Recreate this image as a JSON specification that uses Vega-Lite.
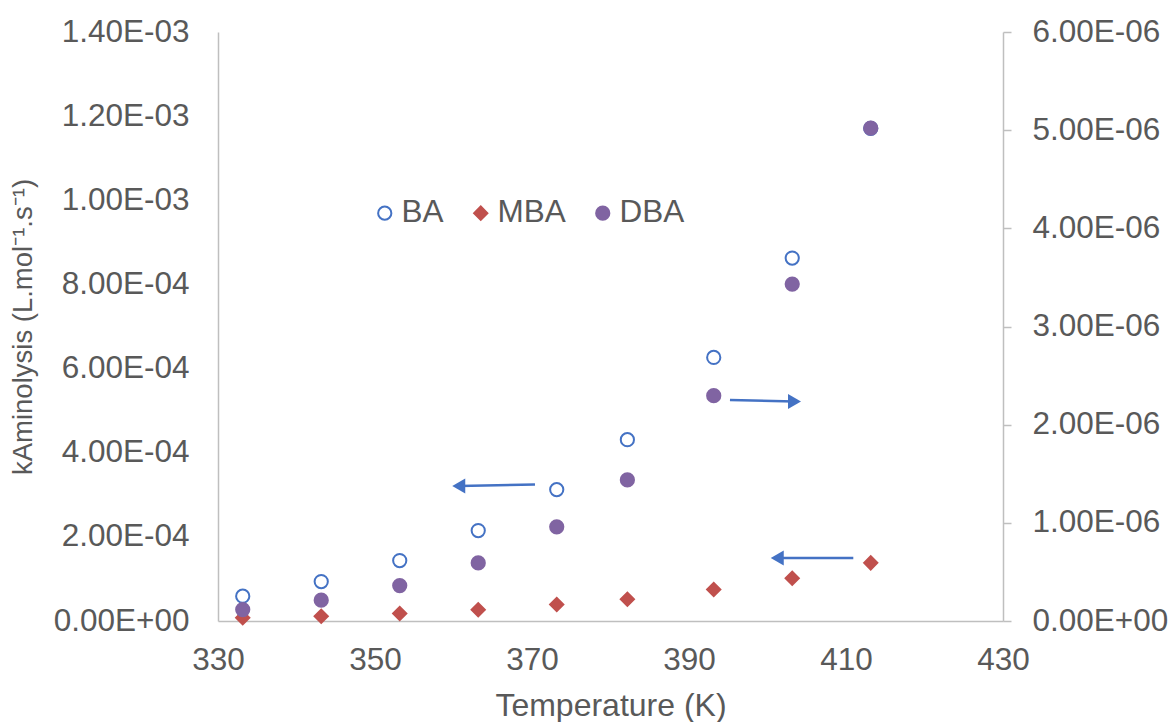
{
  "$schema": "https://vega.github.io/schema/vega-lite/v6.json",
  "width": 785,
  "height": 589,
  "autosize": {"type": "none"},
  "padding": {"left": 218, "top": 32, "right": 171, "bottom": 101},
  "background": "white",
  "datasets": {
    "points": [
      {"T": 333.15, "k": 5.89e-5, "series": "BA"},
      {"T": 343.15, "k": 9.38e-5, "series": "BA"},
      {"T": 353.15, "k": 1.437e-4, "series": "BA"},
      {"T": 363.15, "k": 2.149e-4, "series": "BA"},
      {"T": 373.15, "k": 3.123e-4, "series": "BA"},
      {"T": 382.15, "k": 4.31e-4, "series": "BA"},
      {"T": 393.15, "k": 6.265e-4, "series": "BA"},
      {"T": 403.15, "k": 8.626e-4, "series": "BA"},
      {"T": 413.15, "k": 1.171e-3, "series": "BA"},
      {"T": 333.15, "k": 7.6e-6, "series": "MBA"},
      {"T": 343.15, "k": 1.14e-5, "series": "MBA"},
      {"T": 353.15, "k": 1.78e-5, "series": "MBA"},
      {"T": 363.15, "k": 2.66e-5, "series": "MBA"},
      {"T": 373.15, "k": 3.92e-5, "series": "MBA"},
      {"T": 382.15, "k": 5.18e-5, "series": "MBA"},
      {"T": 393.15, "k": 7.48e-5, "series": "MBA"},
      {"T": 403.15, "k": 1.016e-4, "series": "MBA"},
      {"T": 413.15, "k": 1.382e-4, "series": "MBA"},
      {"T": 333.15, "k": 1.17e-7, "series": "DBA"},
      {"T": 343.15, "k": 2.12e-7, "series": "DBA"},
      {"T": 353.15, "k": 3.61e-7, "series": "DBA"},
      {"T": 363.15, "k": 5.92e-7, "series": "DBA"},
      {"T": 373.15, "k": 9.59e-7, "series": "DBA"},
      {"T": 382.15, "k": 1.437e-6, "series": "DBA"},
      {"T": 393.15, "k": 2.295e-6, "series": "DBA"},
      {"T": 403.15, "k": 3.432e-6, "series": "DBA"},
      {"T": 413.15, "k": 5.02e-6, "series": "DBA"}
    ],
    "arrows": [
      {"x1": 370.38, "y1": 3.242e-4, "x2": 360.67, "y2": 3.211e-4, "dir": "left"},
      {"x1": 395.22, "y1": 5.253e-4, "x2": 403.44, "y2": 5.22e-4, "dir": "right"},
      {"x1": 410.93, "y1": 1.5e-4, "x2": 401.24, "y2": 1.5e-4, "dir": "left"}
    ]
  },
  "layer": [
    {
      "layer": [
        {
          "data": {"name": "points"},
          "transform": [{"filter": "datum.series !== 'DBA'"}],
          "mark": {"type": "point", "filled": true, "opacity": 1, "strokeWidth": 2, "size": 175},
          "encoding": {
            "x": {
              "field": "T", "type": "quantitative",
              "scale": {"domain": [330, 430], "nice": false, "zero": false},
              "axis": {"title": "Temperature (K)", "values": [330, 350, 370, 390, 410, 430], "ticks": false, "tickSize": 0, "labelPadding": 23, "titlePadding": 15}
            },
            "y": {
              "field": "k", "type": "quantitative",
              "scale": {"domain": [0, 0.0014], "nice": false, "zero": true},
              "axis": {
                "orient": "left",
                "title": "kAminolysis (L.mol⁻¹.s⁻¹)",
                "titleFontSize": 27.5,
                "titlePadding": 16,
                "values": [0, 0.0002, 0.0004, 0.0006, 0.0008, 0.001, 0.0012, 0.0014],
                "ticks": false, "tickSize": 0, "labelPadding": 29,
                "labelExpr": "replace(replace(format(datum.value, '.2e'), regexp('e-([0-9])$'), 'E-0$1'), 'e+0', 'E+00')"
              }
            },
            "shape": {"field": "series", "type": "nominal", "scale": {"domain": ["BA", "MBA", "DBA"], "range": ["circle", "diamond", "circle"]}, "legend": {"title": null}},
            "fill": {"field": "series", "type": "nominal", "scale": {"domain": ["BA", "MBA", "DBA"], "range": ["white", "#C0504D", "#8064A2"]}, "legend": {"title": null}},
            "stroke": {"field": "series", "type": "nominal", "scale": {"domain": ["BA", "MBA", "DBA"], "range": ["#4472C4", "#C0504D", "#8064A2"]}, "legend": {"title": null}}
          }
        },
        {
          "data": {"name": "arrows"},
          "mark": {"type": "rule", "color": "#4472C4", "strokeWidth": 2.5},
          "encoding": {
            "x": {"field": "x1", "type": "quantitative", "scale": {"domain": [330, 430], "nice": false, "zero": false}},
            "x2": {"field": "x2"},
            "y": {"field": "y1", "type": "quantitative", "scale": {"domain": [0, 0.0014], "nice": false, "zero": true}},
            "y2": {"field": "y2"}
          }
        },
        {
          "data": {"name": "arrows"},
          "transform": [{"filter": "datum.dir === 'left'"}],
          "mark": {"type": "point", "shape": "triangle-left", "filled": true, "opacity": 1, "color": "#4472C4", "size": 225, "strokeWidth": 0},
          "encoding": {
            "x": {"field": "x2", "type": "quantitative", "scale": {"domain": [330, 430], "nice": false, "zero": false}},
            "y": {"field": "y2", "type": "quantitative", "scale": {"domain": [0, 0.0014], "nice": false, "zero": true}}
          }
        },
        {
          "data": {"name": "arrows"},
          "transform": [{"filter": "datum.dir === 'right'"}],
          "mark": {"type": "point", "shape": "triangle-right", "filled": true, "opacity": 1, "color": "#4472C4", "size": 225, "strokeWidth": 0},
          "encoding": {
            "x": {"field": "x2", "type": "quantitative", "scale": {"domain": [330, 430], "nice": false, "zero": false}},
            "y": {"field": "y2", "type": "quantitative", "scale": {"domain": [0, 0.0014], "nice": false, "zero": true}}
          }
        }
      ]
    },
    {
      "data": {"name": "points"},
      "transform": [{"filter": "datum.series === 'DBA'"}],
      "mark": {"type": "point", "filled": true, "opacity": 1, "strokeWidth": 2, "size": 175},
      "encoding": {
        "x": {"field": "T", "type": "quantitative", "scale": {"domain": [330, 430], "nice": false, "zero": false}},
        "y": {
          "field": "k", "type": "quantitative",
          "scale": {"domain": [0, 0.000006], "nice": false, "zero": true},
          "axis": {
            "orient": "right",
            "title": null,
            "values": [0, 0.000001, 0.000002, 0.000003, 0.000004, 0.000005, 0.000006],
            "ticks": true, "tickSize": 8, "labelPadding": 21,
            "labelExpr": "replace(replace(format(datum.value, '.2e'), regexp('e-([0-9])$'), 'E-0$1'), 'e+0', 'E+00')"
          }
        },
        "shape": {"field": "series", "type": "nominal", "scale": {"domain": ["BA", "MBA", "DBA"], "range": ["circle", "diamond", "circle"]}, "legend": {"title": null}},
        "fill": {"field": "series", "type": "nominal", "scale": {"domain": ["BA", "MBA", "DBA"], "range": ["white", "#C0504D", "#8064A2"]}, "legend": {"title": null}},
        "stroke": {"field": "series", "type": "nominal", "scale": {"domain": ["BA", "MBA", "DBA"], "range": ["#4472C4", "#C0504D", "#8064A2"]}, "legend": {"title": null}}
      }
    }
  ],
  "resolve": {"scale": {"y": "independent"}},
  "config": {
    "view": {"stroke": null},
    "font": "Liberation Sans",
    "axis": {
      "grid": false,
      "domainColor": "#BFBFBF",
      "domainWidth": 1.5,
      "tickColor": "#BFBFBF",
      "tickWidth": 1.5,
      "labelColor": "#595959",
      "labelFontSize": 31.5,
      "labelFont": "Liberation Sans",
      "titleColor": "#595959",
      "titleFontSize": 32,
      "titleFont": "Liberation Sans",
      "titleFontWeight": "normal",
      "labelOverlap": false,
      "labelFlush": false
    },
    "legend": {
      "orient": "none",
      "legendX": 151,
      "legendY": 165,
      "direction": "horizontal",
      "labelFontSize": 31.5,
      "labelFont": "Liberation Sans",
      "labelColor": "#595959",
      "symbolStrokeWidth": 2,
      "symbolSize": 175,
      "labelOffset": 1,
      "columnPadding": 21
    }
  }
}
